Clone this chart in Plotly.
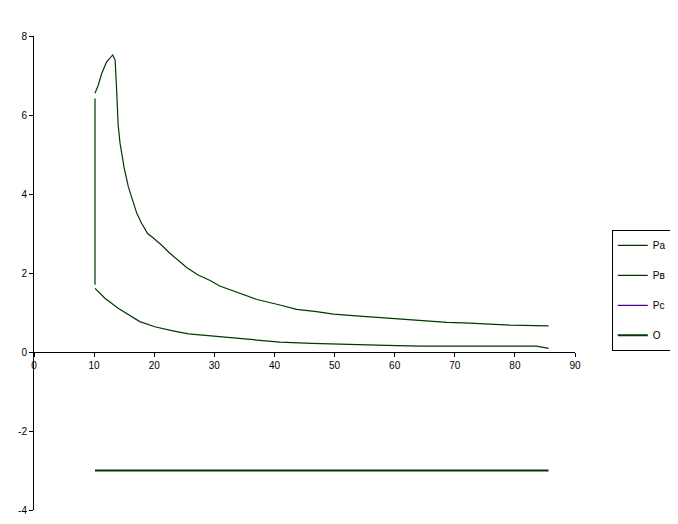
import plotly.graph_objects as go

# Upper curve (Pa)
pa_x = [10.15, 10.7, 11.26, 12.1, 13.1, 13.5, 13.75, 14.0, 14.3, 15.0, 15.7, 16.5, 17.1, 17.9,
        18.9, 19.9, 21.2, 22.6, 24.0, 25.4, 27.3, 29.3, 30.9, 33.7, 37.1, 40.4, 43.7, 47.0, 49.8,
        54.2, 57.6, 60.9, 62.0, 65.3, 68.7, 72.5, 75.9, 79.2, 85.6]
pa_y = [6.55, 6.76, 7.05, 7.35, 7.52, 7.39, 6.63, 5.75, 5.30, 4.66, 4.18, 3.76, 3.51, 3.26,
        3.0, 2.88, 2.71, 2.50, 2.33, 2.14, 1.95, 1.81, 1.67, 1.51, 1.33, 1.21, 1.08, 1.02, 0.96,
        0.91, 0.87, 0.85, 0.83, 0.78, 0.75, 0.73, 0.70, 0.68, 0.66]

# Lower curve (Pв), starting with the vertical drop at x = 10
pb_x = [10.15, 10.15, None, 10.15, 11.8, 14.0, 15.7, 17.6, 20.1, 22.9, 25.7, 29.6, 34.5, 36.5, 38.7,
        40.9, 46.2, 52.0, 58.7, 64.2, 83.6, 85.6]
pb_y = [6.42, 1.70, None, 1.61, 1.36, 1.11, 0.94, 0.77, 0.64, 0.54, 0.46, 0.41, 0.35, 0.32, 0.28,
        0.25, 0.22, 0.19, 0.17, 0.15, 0.15, 0.09]

# Pc (no visible marks)
pc_x = [None]
pc_y = [None]

# O line
o_x = [10.15, 85.6]
o_y = [-3.0, -3.0]

x_ticks = [0, 10, 20, 30, 40, 50, 60, 70, 80, 90]
y_ticks = [-4, -2, 0, 2, 4, 6, 8]

GREEN = "#003800"
PURPLE = "#55008a"

fig = go.Figure()
fig.add_trace(go.Scatter(x=pa_x, y=pa_y, mode="lines", name="Pa", legendgroup="a",
                         line=dict(color=GREEN, width=1.2)))
fig.add_trace(go.Scatter(x=pb_x, y=pb_y, mode="lines", name="Pв", legendgroup="b",
                         line=dict(color=GREEN, width=1.2)))
fig.add_trace(go.Scatter(x=pc_x, y=pc_y, mode="lines", name="Pc", legendgroup="c",
                         line=dict(color=PURPLE, width=1.2)))
fig.add_trace(go.Scatter(x=o_x, y=o_y, mode="lines", name="O", legendgroup="d",
                         line=dict(color=GREEN, width=2)))

axis_font = dict(family="Liberation Sans, Arial, sans-serif", size=10, color="black")

fig.update_layout(
    width=670, height=516,
    margin=dict(l=26, r=103, t=28, b=14, autoexpand=False),
    paper_bgcolor="white", plot_bgcolor="white",
    showlegend=True,
    legend=dict(
        x=1.068, y=0.591, xanchor="left", yanchor="top",
        bordercolor="black", borderwidth=1, bgcolor="white",
        font=dict(family="Liberation Sans, Arial, sans-serif", size=10, color="black"),
        traceorder="grouped", tracegroupgap=11,
        itemwidth=30,
    ),
    xaxis=dict(
        range=[0, 90], tickvals=x_ticks, ticktext=[str(v) for v in x_ticks],
        showgrid=False, zeroline=False, showline=True, linecolor="black", linewidth=1,
        ticks="outside", ticklen=4, tickcolor="black",
        anchor="free", position=4 / 12, tickfont=axis_font, automargin=False,
    ),
    yaxis=dict(
        range=[-4, 8], tickvals=y_ticks, ticktext=[str(v) for v in y_ticks],
        showgrid=False, zeroline=False, showline=True, linecolor="black", linewidth=1,
        ticks="outside", ticklen=4, tickcolor="black", tickfont=axis_font, automargin=False,
    ),
)

fig.write_html("out.html")
